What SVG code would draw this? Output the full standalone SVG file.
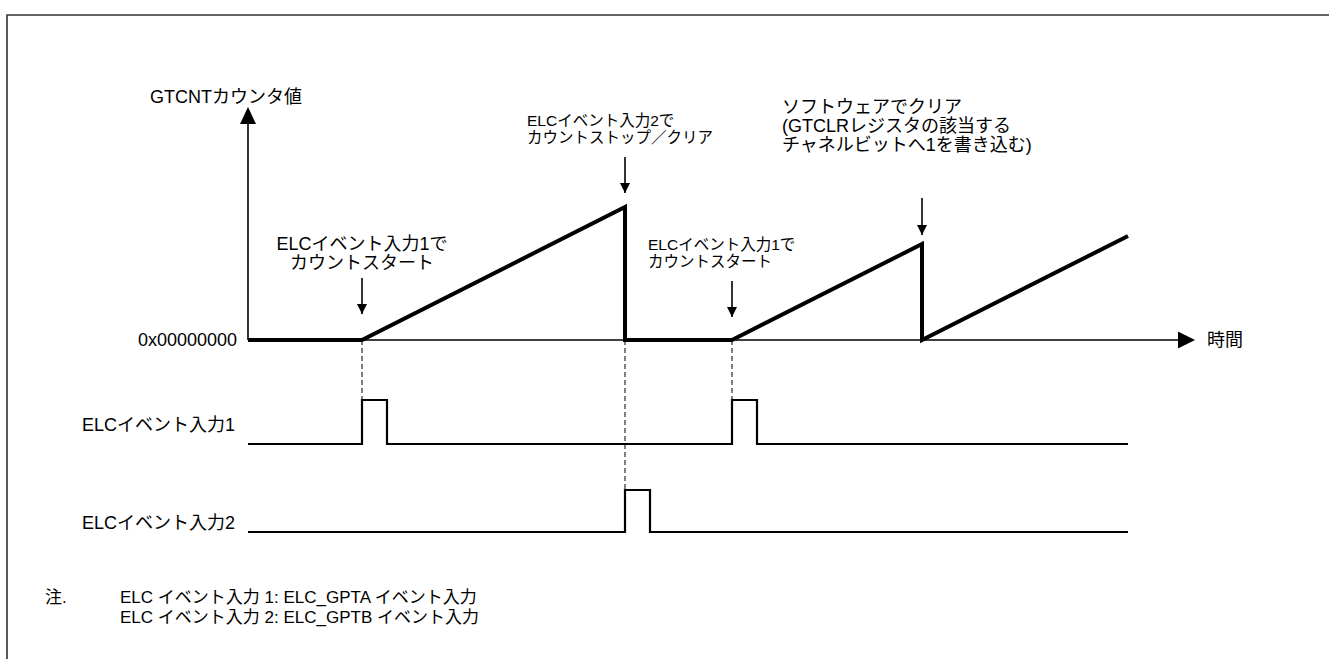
<svg xmlns="http://www.w3.org/2000/svg" width="1329" height="659" viewBox="0 0 1329 659">
<defs>
<style>
text{font-family:"Liberation Sans","Noto Sans CJK JP",sans-serif;fill:#000}
.m{font-size:18px}
.s{font-size:15.5px}
.n{font-size:17px}
.wave{fill:none;stroke:#000;stroke-width:4;stroke-linejoin:miter}
.axis{fill:none;stroke:#000;stroke-width:1.6}
.sig{fill:none;stroke:#000;stroke-width:2.2}
.dash{fill:none;stroke:#000;stroke-width:1;stroke-dasharray:5 3}
.arr{fill:none;stroke:#000;stroke-width:1.6}
</style>
<marker id="ah" viewBox="0 0 10 10" refX="10" refY="5" markerWidth="10" markerHeight="10" markerUnits="userSpaceOnUse" orient="auto">
<path d="M0,0 L10,5 L0,10 Z" fill="#000"/>
</marker>
</defs>
<rect width="1329" height="659" fill="#fff"/>
<path d="M7,659 V15 H1329" fill="none" stroke="#333" stroke-width="1.6"/>

<g id="axes">
<path class="axis" d="M248,340 V122"/>
<path d="M248,107 L256,124 L240,124 Z" fill="#000"/>
<path class="axis" d="M248,340 H1180"/>
<path d="M1195,340 L1178,331.5 L1178,348.5 Z" fill="#000"/>
<text class="m" x="150" y="103">GTCNTカウンタ値</text>
<text class="m" x="237" y="346" text-anchor="end">0x00000000</text>
<text class="m" x="1207" y="346">時間</text>
</g>

<g id="counter">
<path class="wave" d="M248,340 H362 L625,207 V340 H732 L922,244 V340 L1128,236"/>
</g>

<g id="event1">
<text class="m" x="82" y="431">ELCイベント入力1</text>
<path class="sig" d="M248,444 H362 V400 H387 V444 H732 V400 H757 V444 H1128"/>
</g>

<g id="event2">
<text class="m" x="82" y="529">ELCイベント入力2</text>
<path class="sig" d="M248,532 H625 V490 H650 V532 H1128"/>
</g>

<g id="connectors">
<path class="dash" d="M362,340 V400"/>
<path class="dash" d="M625,340 V490"/>
<path class="dash" d="M732,340 V400"/>
<path class="arr" d="M362,278 V314" marker-end="url(#ah)"/>
<path class="arr" d="M625,157 V193" marker-end="url(#ah)"/>
<path class="arr" d="M732,281 V317" marker-end="url(#ah)"/>
<path class="arr" d="M922,198 V235" marker-end="url(#ah)"/>
</g>

<g id="label-start1">
<text class="m" x="362" y="250" text-anchor="middle">ELCイベント入力1で</text>
<text class="m" x="362" y="269" text-anchor="middle">カウントスタート</text>
</g>

<g id="label-stop2">
<text class="s" x="527" y="126">ELCイベント入力2で</text>
<text class="s" x="527" y="143">カウントストップ／クリア</text>
</g>

<g id="label-start1b">
<text class="s" x="648" y="250">ELCイベント入力1で</text>
<text class="s" x="648" y="267">カウントスタート</text>
</g>

<g id="label-soft">
<text class="m" x="782" y="113">ソフトウェアでクリア</text>
<text class="m" x="782" y="132">(GTCLRレジスタの該当する</text>
<text class="m" x="782" y="151">チャネルビットへ1を書き込む)</text>
</g>

<g id="note">
<text class="n" x="45" y="603">注.</text>
<text class="n" x="120" y="603">ELC イベント入力 1: ELC_GPTA イベント入力</text>
<text class="n" x="120" y="623">ELC イベント入力 2: ELC_GPTB イベント入力</text>
</g>
</svg>
